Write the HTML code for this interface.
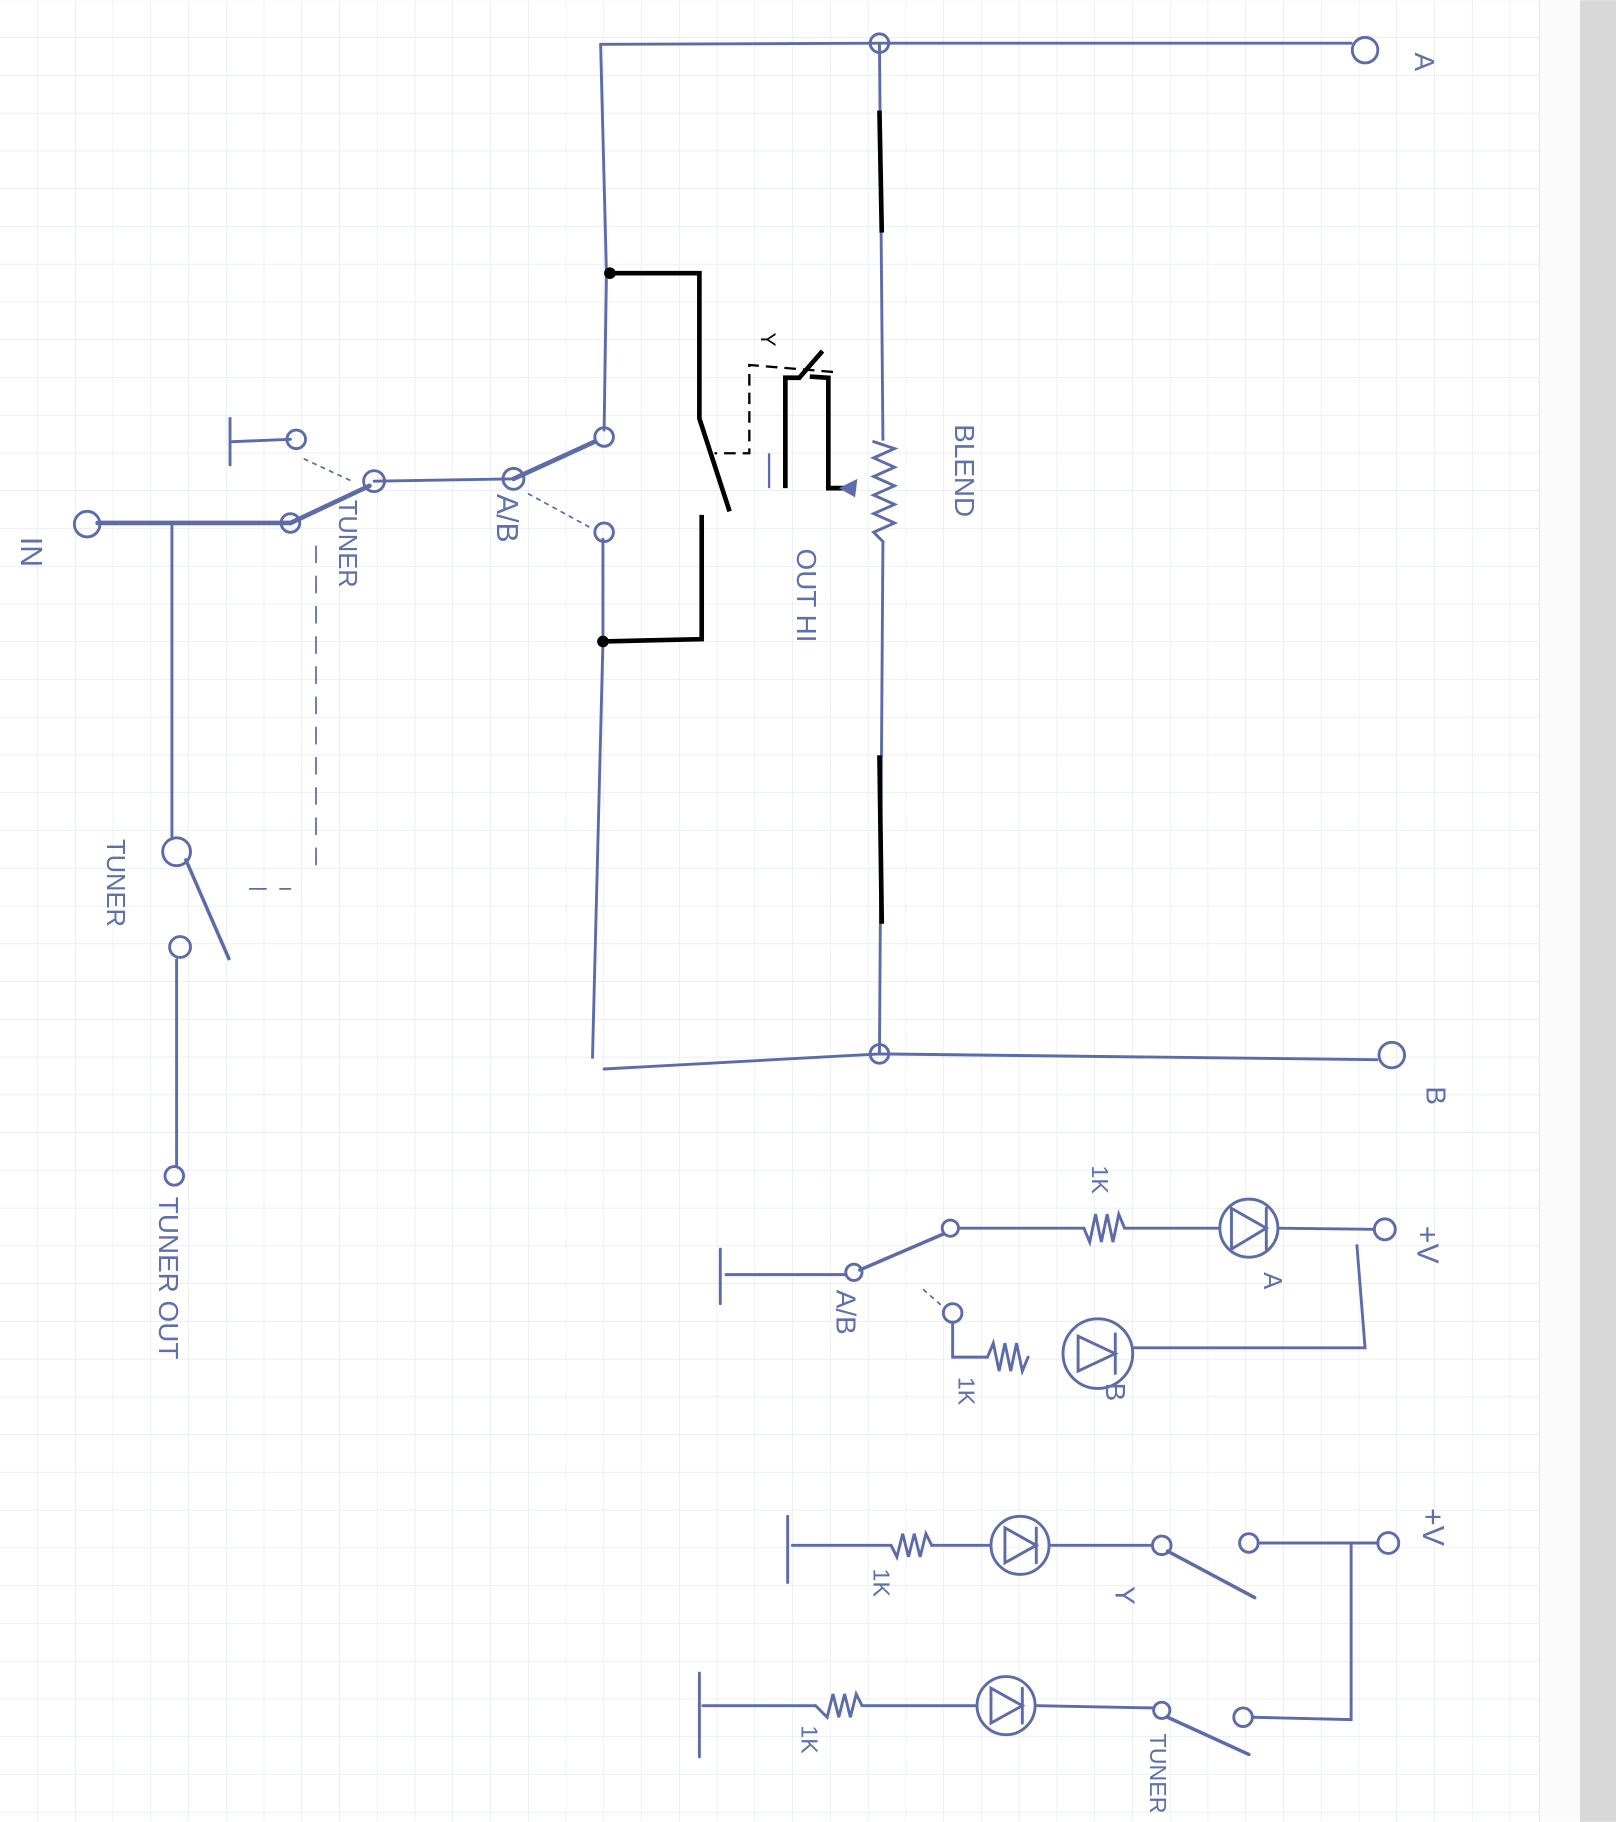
<!DOCTYPE html>
<html><head><meta charset="utf-8">
<style>
html,body{margin:0;padding:0;background:#fff;}
svg{display:block;}
text{font-family:"Liberation Sans",sans-serif;fill:#6070a8;}
</style></head><body>
<svg width="1616" height="1822" viewBox="0 0 1391 1568" xmlns="http://www.w3.org/2000/svg">
<defs>
<pattern id="g" width="32.5" height="32.5" patternUnits="userSpaceOnUse">
<path d="M32.5 0V32.5M0 32.5H32.5" stroke="#dfe7ef" stroke-width="1" fill="none"/>
</pattern>
</defs>
<rect width="1391" height="1568" fill="#fff"/>
<rect width="1325" height="1568" fill="url(#g)"/>
<rect x="1325" y="0" width="35" height="1568" fill="#fbfbfb"/>
<line x1="1325" y1="0" x2="1325" y2="1568" stroke="#e6e6e6"/>
<rect x="1360" y="0" width="31" height="1568" fill="#d8d8d8"/>

<g stroke="#5d6ca8" stroke-width="2.5" fill="none" stroke-linecap="round">
<path d="M517 38 L757 37 L1163 37"/>
<circle cx="1175" cy="43" r="11"/>
<path d="M520 920 L757 907 L1185 912"/>
<circle cx="1198" cy="908" r="11"/>
<circle cx="757" cy="37" r="8"/><circle cx="757" cy="907" r="8"/>
<path d="M517 38 L522 235 L520 370"/>
<path d="M519 464 L519 552 L510 910"/>
<path d="M757 37 L760 378"/>
<path d="M752 380 L770 386 L752 394 L770 402 L752 410 L770 418 L752 426 L770 434 L752 442 L770 450 L752 458 L760 466"/>
<path d="M760 466 L757 907"/>
<circle cx="520" cy="376" r="8"/><circle cx="520" cy="458" r="8"/>
<circle cx="442" cy="412" r="9"/>
<path d="M442 412 L512 380" stroke-width="4"/>
<path d="M322 414 L442 412"/>
<path d="M455 425 L510 455" stroke-dasharray="3 5" stroke-width="1.5"/>
<circle cx="322" cy="414" r="9"/><circle cx="250" cy="450" r="8"/><circle cx="255" cy="378" r="8"/>
<path d="M250 450 L318 418" stroke-width="4"/>
<path d="M200 380 L250 378"/><path d="M198 360 L198 400"/>
<path d="M262 395 L305 415" stroke-dasharray="3 5" stroke-width="1.5"/>
<path d="M84 450 L250 450" stroke-width="4"/>
<circle cx="75" cy="451" r="11"/>
<path d="M148 450 L148 722"/>
<circle cx="152" cy="733" r="12"/>
<path d="M160 740 L197 825" stroke-width="3"/>
<circle cx="155" cy="815" r="9"/>
<path d="M152 826 L152 1003"/>
<circle cx="150" cy="1012" r="8"/>
<path d="M272 470 L272 755 M215 765 L250 765" stroke-dasharray="14 12" stroke-width="1.5"/>
<circle cx="1192" cy="1058" r="9"/>
<path d="M1183 1058 L1100 1057"/>
<circle cx="1075" cy="1057" r="25"/>
<path d="M1060 1040 L1060 1075 L1090 1057 Z M1090 1040 L1090 1075"/>
<path d="M1050 1057 L968 1057"/>
<path d="M968 1057 L963 1045 L958 1069 L953 1045 L948 1069 L943 1045 L938 1069 L933 1057"/>
<path d="M933 1057 L826 1057"/>
<circle cx="818" cy="1057" r="7"/>
<path d="M812 1062 L740 1093" stroke-width="3"/>
<circle cx="735" cy="1095" r="7"/>
<path d="M728 1097 L625 1097"/>
<path d="M620 1075 L620 1122"/>
<circle cx="820" cy="1130" r="8"/>
<path d="M820 1138 L820 1168 L850 1168"/>
<path d="M850 1168 L855 1156 L860 1180 L865 1156 L870 1180 L875 1156 L880 1180 L885 1168"/>
<circle cx="945" cy="1165" r="30"/>
<path d="M928 1150 L960 1165 L928 1180 Z M960 1148 L960 1182"/>
<path d="M975 1160 L1175 1160 L1168 1072"/>
<path d="M795 1110 L812 1125" stroke-dasharray="3 5" stroke-width="1.5"/>
<circle cx="1195" cy="1328" r="9"/>
<path d="M1186 1328 L1083 1328"/>
<circle cx="1075" cy="1328" r="8"/>
<path d="M1163 1328 L1163 1480 L1078 1478"/>
<circle cx="1070" cy="1478" r="8"/>
<path d="M1005 1335 L1080 1375" stroke-width="3"/>
<circle cx="1000" cy="1330" r="8"/>
<path d="M992 1330 L903 1330"/>
<circle cx="878" cy="1330" r="25"/>
<path d="M865 1315 L865 1345 L892 1330 Z M892 1315 L892 1345"/>
<path d="M853 1330 L802 1330"/>
<path d="M802 1330 L797 1320 L792 1340 L787 1320 L782 1340 L777 1320 L772 1340 L767 1330"/>
<path d="M767 1330 L682 1330"/>
<path d="M678 1305 L678 1362"/>
<circle cx="1000" cy="1472" r="7"/>
<path d="M1005 1478 L1075 1510" stroke-width="3"/>
<path d="M993 1470 L893 1468"/>
<circle cx="866" cy="1468" r="25"/>
<path d="M853 1453 L853 1483 L880 1468 Z M880 1453 L880 1483"/>
<path d="M841 1468 L742 1468"/>
<path d="M742 1468 L737 1458 L732 1478 L727 1458 L722 1478 L717 1458 L712 1478 L702 1468"/>
<path d="M702 1468 L605 1468"/>
<path d="M602 1440 L602 1512"/>
</g>

<g stroke="#000" stroke-width="4" fill="none">
<path d="M757 95 L759 200 M757 650 L759 795"/>
<path d="M525 235 L602 235 L602 360 L628 440"/>
<path d="M604 443 L604 550 L519 552"/>
<path d="M676 420 L676 325 L688 325 L708 302"/>
<path d="M697 324 L713 325 L713 420 L728 420"/>
<path d="M717 320 L645 314 L645 345 L645 390 L615 390" stroke-width="2" stroke-dasharray="10 6"/>
</g>
<circle cx="525" cy="235" r="5" fill="#000"/>
<circle cx="519" cy="552" r="5" fill="#000"/>
<path d="M722 420 L738 412 L736 428 Z" fill="#5d6ca8"/>
<path d="M662 390 L662 420" stroke="#5d6ca8" stroke-width="2"/>

<g font-size="24">
<text transform="translate(1218,45) rotate(90)">A</text>
<text transform="translate(1228,935) rotate(90)">B</text>
<text transform="translate(18,462) rotate(90)" font-size="26">IN</text>
<text transform="translate(292,430) rotate(90)" font-size="22">TUNER</text>
<text transform="translate(428,425) rotate(90)" font-size="26">A/B</text>
<text transform="translate(822,365) rotate(90)" font-size="24">BLEND</text>
<text transform="translate(686,472) rotate(90)" font-size="24">OUT HI</text>
<text transform="translate(92,722) rotate(90)" font-size="22">TUNER</text>
<text transform="translate(137,1030) rotate(90)" font-size="24">TUNER OUT</text>
<text transform="translate(1220,1055) rotate(90)" font-size="26">+V</text>
<text transform="translate(1088,1095) rotate(90)" font-size="22">A</text>
<text transform="translate(952,1190) rotate(90)" font-size="24">B</text>
<text transform="translate(720,1110) rotate(90)" font-size="24">A/B</text>
<text transform="translate(940,1003) rotate(90)" font-size="20">1K</text>
<text transform="translate(825,1185) rotate(90)" font-size="20">1K</text>
<text transform="translate(1225,1298) rotate(90)" font-size="26">+V</text>
<text transform="translate(960,1365) rotate(90)" font-size="24">Y</text>
<text transform="translate(752,1350) rotate(90)" font-size="20">1K</text>
<text transform="translate(690,1485) rotate(90)" font-size="20">1K</text>
<text transform="translate(990,1492) rotate(90)" font-size="20">TUNER</text>
<text transform="translate(655,286) rotate(90)" font-size="18" style="fill:#000">Y</text>
</g>
</svg>
</body></html>
